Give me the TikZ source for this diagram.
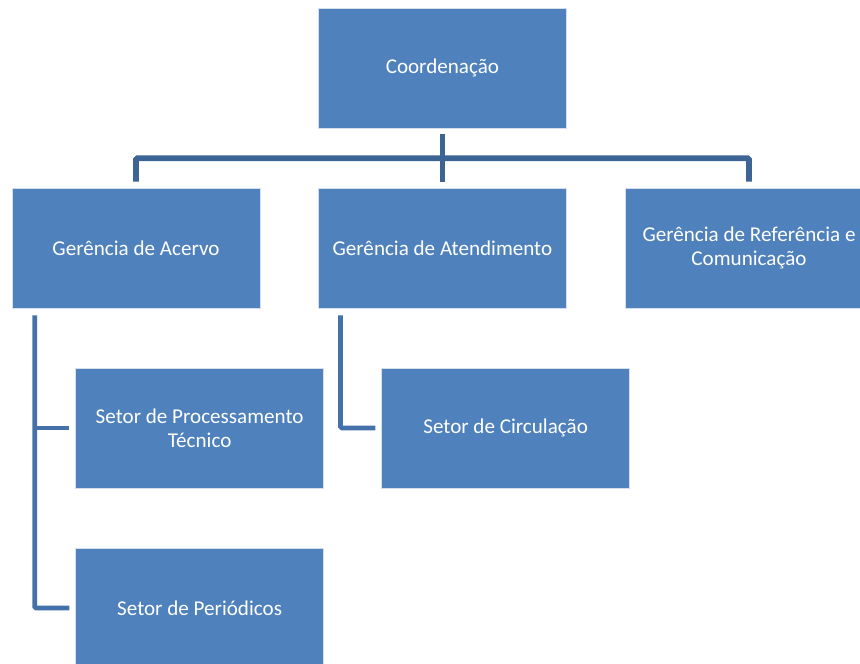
\documentclass[tikz,border=0pt]{standalone}
\usepackage{fontspec}
\setmainfont{Carlito}
\usepackage{xcolor}
\definecolor{azulcaixa}{RGB}{79, 129, 189}
\definecolor{azullinha}{RGB}{60, 101, 149}
\definecolor{azullado}{RGB}{69, 113, 170}
\usetikzlibrary{positioning}
\tikzset{
    caixa/.style={rectangle, fill=azulcaixa, draw=white!75!azulcaixa, line width=0.4pt,
        minimum width=6.2cm, minimum height=3cm, text=white, align=center,
        font=\fontsize{15}{17}\selectfont},
    linha/.style={azullinha, line width=0.14cm},
    lado/.style={azullado, line width=0.12cm}
}
\begin{document}
\begin{tikzpicture}
        % Moldura da figura (algumas caixas ficam cortadas)
        \useasboundingbox (0,0) rectangle (21.5,-16.6);
        \clip (0,0) rectangle (21.5,-16.6);
        % Caixas do organograma
        \node[caixa] (coord) at (11.06,-1.70) {Coordenação};
        \node[caixa] (acervo) at (3.40,-6.20) {Gerência de Acervo};
        \node[caixa] (atend) at (11.06,-6.20) {Gerência de Atendimento};
        \node[caixa] (refer) at (18.725,-6.20) {Gerência de Referência e\\Comunicação};
        \node[caixa] (proc) at (4.99,-10.70) {Setor de Processamento\\Técnico};
        \node[caixa] (circ) at (12.64,-10.70) {Setor de Circulação};
        \node[caixa] (period) at (4.99,-15.20) {Setor de Periódicos};
        % Ligações da coordenação com as gerências
        \coordinate (barra) at ([yshift=-0.75cm]coord.south);
        \draw[linha] ([yshift=-0.15cm]coord.south) -- ([yshift=0.15cm]atend.north);
        \draw[linha, rounded corners=1pt] ([yshift=0.15cm]acervo.north) -- (acervo.north |- barra)
            -- (refer.north |- barra) -- ([yshift=0.15cm]refer.north);
        % Ligações das gerências com os setores
        \draw[lado, rounded corners=1pt] ([shift={(0.575cm,-0.175cm)}]acervo.south west) |- ([xshift=-0.15cm]period.west);
        \draw[lado] ([xshift=0.575cm]acervo.south west |- proc.west) -- ([xshift=-0.15cm]proc.west);
        \draw[lado, rounded corners=1pt] ([shift={(0.56cm,-0.175cm)}]atend.south west) |- ([xshift=-0.15cm]circ.west);
    \end{tikzpicture}
\end{document}
